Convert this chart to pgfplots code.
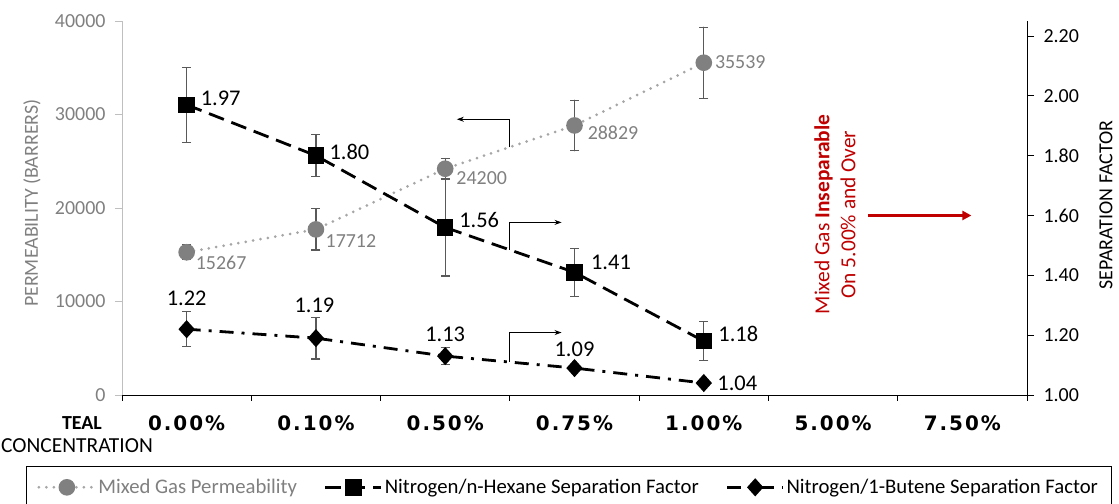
\documentclass[border=0pt]{standalone}
\usepackage{fontspec}
\setmainfont{Carlito}
\newfontfamily\tickfont{DejaVu Sans}[LetterSpace=10]
\usepackage{pgfplots}
\usepackage{pgfplotstable}
\pgfplotsset{compat=1.18}
\usetikzlibrary{arrows.meta}

\definecolor{permgray}{HTML}{808080}
\definecolor{dotgray}{HTML}{A6A6A6}
\definecolor{errgray}{HTML}{595959}
\definecolor{axgray}{HTML}{BFBFBF}
\definecolor{alertred}{HTML}{C00000}

% columns: category index, value, error, label offset (bp)
\pgfplotstableread{
x y err dx dy
0 15267 800 34.5 -11
1 17712 2200 35 -12
2 24200 1100 36.5 -9
3 28829 2700 38.5 -7
4 35539 3800 36.5 1
}\permdata

\pgfplotstableread{
x y err dx dy
0 1.97 0.125 34 6
1 1.80 0.070 33.5 4
2 1.56 0.162 34 7
3 1.41 0.080 36.5 10
4 1.18 0.065 34.5 7
}\hexdata

\pgfplotstableread{
x y err dx dy
0 1.22 0.058 0 31
1 1.19 0.070 -1.5 33
2 1.13 0.029 0 22
3 1.09 0.012 0 19
4 1.04 0.008 33.5 0
}\butdata

\pgfplotsset{
  errstyle/.style={
    error bars/y dir=both, error bars/y explicit,
    error bars/error bar style={errgray, line width=1.3bp, solid},
    error bars/error mark options={errgray, line width=1.3bp, mark size=4.5bp, rotate=90},
  },
  labelshift/.style={
    visualization depends on={\thisrow{dx}\as\dx},
    visualization depends on={\thisrow{dy}\as\dy},
    nodes near coords style={anchor=center, xshift=\dx bp, yshift=\dy bp, inner sep=0pt},
  },
  permstyle/.style={dotgray, line width=3bp, dash pattern=on 0bp off 7.5bp, line cap=round,
    mark=*, mark size=6.8bp, mark options={solid, draw=permgray, fill=permgray}},
  hexstyle/.style={black, line width=2.8bp, dash pattern=on 16bp off 8bp,
    mark=square*, mark size=6.8bp, mark options={solid, black}},
  butstyle/.style={black, line width=2.8bp, dash pattern=on 14bp off 8bp on 3bp off 8bp,
    mark=diamond*, mark size=7bp, mark options={solid, black, xscale=1.2}},
}

\newcommand\numfont{\fontsize{20}{24}\selectfont}

\begin{document}
\begin{tikzpicture}
\useasboundingbox (0,0) rectangle (1119bp,504bp);

% permeability on the left axis
\begin{axis}[
  at={(122bp,109bp)}, anchor=south west,
  scale only axis, width=905bp, height=374bp,
  xmin=-0.5, xmax=6.5, ymin=0, ymax=40000,
  axis x line*=bottom, axis y line*=left,
  x axis line style={black, line width=0.9bp},
  y axis line style={axgray, line width=0.9bp},
  clip=false,
  tick align=outside,
  xtick={0,...,6},
  xticklabels={0.00\%,0.10\%,0.50\%,0.75\%,1.00\%,5.00\%,7.50\%},
  major x tick style={draw=none},
  minor xtick={-0.5,0.5,...,6.5},
  minor tick length=6bp,
  minor x tick style={black, line width=0.9bp},
  xticklabel style={font=\tickfont\bfseries\fontsize{20}{24}\selectfont, yshift=-10bp},
  ytick={0,10000,...,40000},
  major tick length=7bp,
  ytick style={axgray, line width=0.9bp},
  scaled y ticks=false,
  yticklabel style={font=\numfont, text=permgray, xshift=-6bp, /pgf/number format/1000 sep={}},
  /pgf/number format/assume math mode=true,
]
\addplot[permstyle, errstyle, labelshift,
  point meta=y,
  nodes near coords={\pgfmathprintnumber[fixed,precision=0,1000 sep={}]{\pgfplotspointmeta}},
  nodes near coords style={text=permgray, font=\numfont},
] table[x=x, y=y, y error=err] {\permdata};

% pointers from each series to its axis
\draw[black, line width=0.9bp, -{Stealth[length=7bp,width=5bp]}]
  (axis cs:2.5,26490) |- (axis cs:2.09,29490);
\draw[black, line width=0.9bp, -{Stealth[length=7bp,width=5bp]}]
  (axis cs:2.5,15560) |- (axis cs:2.90,18460);
\draw[black, line width=0.9bp, -{Stealth[length=7bp,width=5bp]}]
  (axis cs:2.5,3570) |- (axis cs:2.90,6680);

% note on the high concentrations
\node[rotate=90, align=center, text=alertred, font=\fontsize{21.5}{26}\selectfont]
  at (axis cs:5.015,19310) {Mixed Gas \textbf{Inseparable}\\On 5.00\% and Over};
\draw[alertred, line width=3bp, -{Triangle[length=9bp,width=9bp]}]
  (axis cs:5.27,19200) -- (axis cs:6.07,19200);

% axis titles
\node[rotate=90, text=permgray, font=\numfont] at (rel axis cs:-0.0994,0.513) {PERMEABILITY (BARRERS)};
\node[rotate=90, font=\numfont] at (rel axis cs:1.0873,0.508) {SEPARATION FACTOR};
\node[font=\bfseries\fontsize{20}{24}\selectfont] at (rel axis cs:-0.0442,-0.0749) {TEAL};
\node[font=\fontsize{21.5}{26}\selectfont] at (rel axis cs:-0.0497,-0.1364) {CONCENTRATION};
\end{axis}

% separation factors on the right axis
\begin{axis}[
  at={(122bp,109bp)}, anchor=south west,
  scale only axis, width=905bp, height=374bp,
  xmin=-0.5, xmax=6.5, ymin=1.00, ymax=2.25,
  axis x line=none, axis y line*=right,
  y axis line style={black, line width=0.9bp},
  clip=false,
  tick align=outside,
  ytick={1.0,1.2,...,2.21},
  major tick length=7bp,
  ytick style={black, line width=0.9bp},
  yticklabel style={font=\numfont, xshift=6bp, /pgf/number format/.cd, fixed, fixed zerofill, precision=2},
  /pgf/number format/assume math mode=true,
  legend columns=3,
  legend cell align=left,
  legend style={at={(-0.1061,-0.1898)}, anchor=north west, draw=black, line width=0.8bp,
    font=\fontsize{20.8}{25}\selectfont, inner xsep=11bp, inner ysep=11bp,
    /tikz/every even column/.append style={column sep=25bp}},
  legend image code/.code={\draw[mark repeat=2,mark phase=2,#1] plot coordinates {(0bp,0bp) (28bp,0bp) (56bp,0bp)};},
]
\addlegendimage{permstyle}
\addlegendentry{\textcolor{permgray}{Mixed Gas Permeability}}

\addplot[hexstyle, errstyle, labelshift,
  point meta=y,
  nodes near coords={\pgfmathprintnumber[fixed,fixed zerofill,precision=2]{\pgfplotspointmeta}},
  nodes near coords style={text=black, font=\fontsize{22.5}{27}\selectfont},
] table[x=x, y=y, y error=err] {\hexdata};
\addlegendentry{Nitrogen/n-Hexane Separation Factor}

\addplot[butstyle, errstyle, labelshift,
  point meta=y,
  nodes near coords={\pgfmathprintnumber[fixed,fixed zerofill,precision=2]{\pgfplotspointmeta}},
  nodes near coords style={text=black, font=\fontsize{22.5}{27}\selectfont},
] table[x=x, y=y, y error=err] {\butdata};
\addlegendentry{Nitrogen/1-Butene Separation Factor}
\end{axis}
\end{tikzpicture}
\end{document}
